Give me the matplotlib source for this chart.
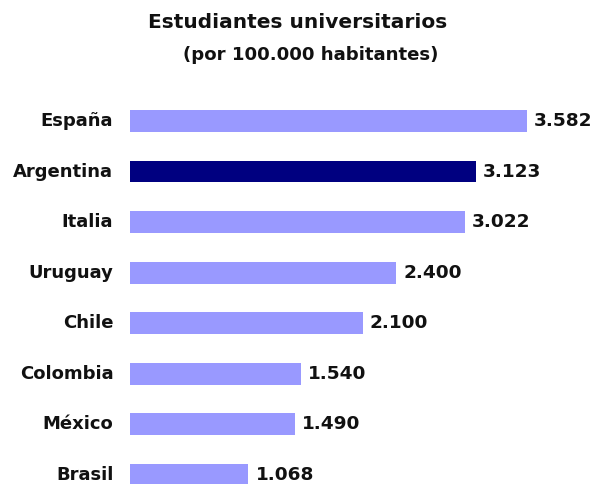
import matplotlib
matplotlib.use("Agg")
import matplotlib.pyplot as plt

plt.rcParams["font.family"] = "DejaVu Sans"

paises = ["España", "Argentina", "Italia", "Uruguay", "Chile", "Colombia", "México", "Brasil"]
valores = [3582, 3123, 3022, 2400, 2100, 1540, 1490, 1068]
etiquetas = ["3.582", "3.123", "3.022", "2.400", "2.100", "1.540", "1.490", "1.068"]
destacado = "Argentina"

W, H = 595, 484
fig = plt.figure(figsize=(W / 100, H / 100), dpi=100)
# x = 0 at pixel 130, scale ~0.1108 px per unit
ax = fig.add_axes([130 / W, 0, 440 / W, 1 - 96 / H])
colores = ["#000080" if p == destacado else "#9999FF" for p in paises]
pos = list(range(len(paises)))
ax.barh(pos, valores, height=0.43, color=colores)
ax.set_xlim(0, 440 / 0.1108)
ax.set_ylim(7.18, -0.494)

for y, v, t in zip(pos, valores, etiquetas):
    ax.text(v + 65, y, t, va="center", ha="left", fontsize=13.3, fontweight="bold", color="#111111")

ax.set_yticks(pos)
ax.set_yticklabels(paises, fontsize=13, fontweight="bold", color="#111111", va="center")
ax.tick_params(axis="y", length=0, pad=12)
ax.set_xticks([])
for s in ax.spines.values():
    s.set_visible(False)

fig.text(298 / W, 1 - 22 / H, "Estudiantes universitarios", ha="center", va="center",
         fontsize=14.5, fontweight="bold", color="#111111")
fig.text(311 / W, 1 - 55 / H, "(por 100.000 habitantes)", ha="center", va="center",
         fontsize=13.1, fontweight="bold", color="#111111")

fig.savefig("out.png", dpi=100)
